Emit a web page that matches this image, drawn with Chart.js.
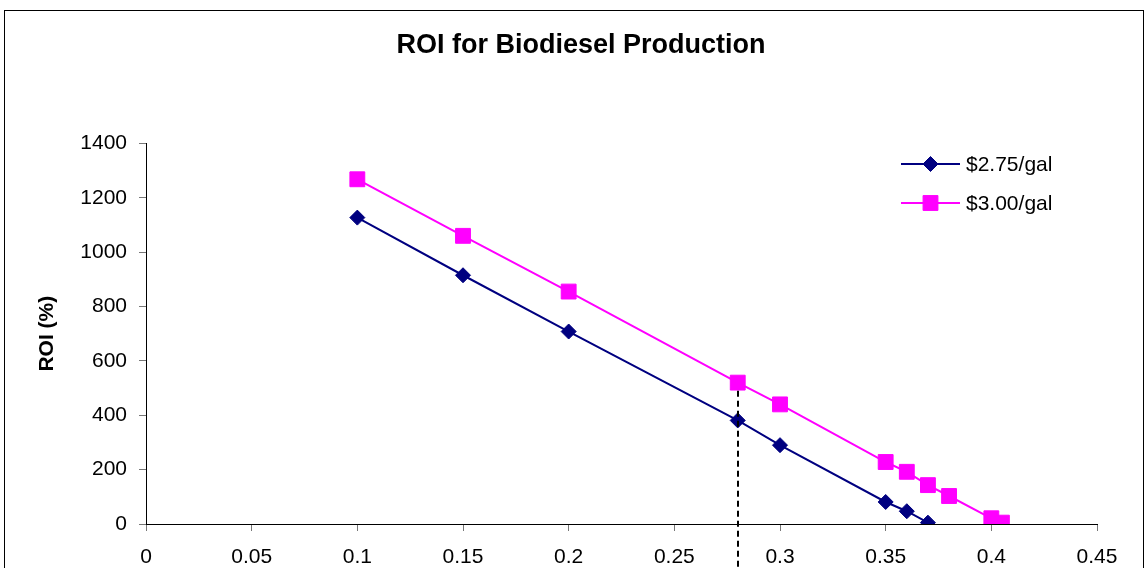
<!DOCTYPE html>
<html>
<head>
<meta charset="utf-8">
<script src="https://cdn.jsdelivr.net/npm/chart.js@4/dist/chart.umd.min.js"></script>
<style>
  html, body { margin: 0; padding: 0; background: #ffffff; }
  #wrap { width: 1146px; height: 568px; position: relative; }
</style>
</head>
<body>
<div id="wrap"><canvas id="c" width="1146" height="568"></canvas></div>
<script>
// ---- data ----
const seriesNames = ['$2.75/gal', '$3.00/gal'];
const xA = [0.1, 0.15, 0.2, 0.28, 0.3, 0.35, 0.36, 0.37];
const yA = [1127, 915, 708, 381, 290, 81, 47, 5];
const xB = [0.1, 0.15, 0.2, 0.28, 0.3, 0.35, 0.36, 0.37, 0.38, 0.40, 0.405];
const yB = [1268, 1060, 855, 520, 440, 228, 192, 143, 103, 21, 5];
const markerX = 0.28;      // dashed reference line
const markerTopY = 520;
const xTickLabels = ['0', '0.05', '0.1', '0.15', '0.2', '0.25', '0.3', '0.35', '0.4', '0.45'];
const yTickLabels = ['0', '200', '400', '600', '800', '1000', '1200', '1400'];

const toPts = (xs, ys) => xs.map((x, i) => ({ x: x, y: ys[i] }));
const FONT = "'Liberation Sans', Arial, sans-serif";

const decor = {
  id: 'decor',
  beforeDraw(chart) {
    const ctx = chart.ctx;
    ctx.save();
    ctx.fillStyle = '#ffffff';
    ctx.fillRect(0, 0, chart.width, chart.height);
    ctx.strokeStyle = '#000000';
    ctx.lineWidth = 1;
    ctx.strokeRect(4.5, 10.5, 1139, 700);
    ctx.restore();
  },
  afterDatasetsDraw(chart) {
    const ctx = chart.ctx;
    const xs = chart.scales.x, ys = chart.scales.y;
    ctx.save();
    ctx.strokeStyle = '#000000';
    ctx.lineWidth = 2;
    ctx.setLineDash([6, 4]);
    const px = Math.round(xs.getPixelForValue(markerX));
    ctx.beginPath();
    ctx.moveTo(px, ys.getPixelForValue(markerTopY) + 8);
    ctx.lineTo(px, chart.height);
    ctx.stroke();
    ctx.restore();
  },
  afterDraw(chart) {
    const ctx = chart.ctx;
    const rows = [164, 203];
    chart.data.datasets.forEach((ds, i) => {
      const y = rows[i];
      ctx.save();
      ctx.strokeStyle = ds.borderColor;
      ctx.lineWidth = 2;
      ctx.beginPath();
      ctx.moveTo(901, y);
      ctx.lineTo(960, y);
      ctx.stroke();
      ctx.fillStyle = ds.pointBackgroundColor;
      ctx.strokeStyle = ds.pointBorderColor;
      ctx.lineWidth = 1;
      Chart.helpers.drawPoint(ctx, {
        pointStyle: ds.pointStyle, rotation: 0, borderWidth: 1, radius: ds.pointRadius
      }, 930.5, y);
      ctx.fillStyle = '#000000';
      ctx.font = '21px ' + FONT;
      ctx.textBaseline = 'middle';
      ctx.textAlign = 'left';
      ctx.fillText(ds.label, 966, y + 1);
      ctx.restore();
    });
  }
};

new Chart(document.getElementById('c'), {
  type: 'line',
  data: {
    datasets: [
      {
        label: seriesNames[0],
        data: toPts(xA, yA),
        borderColor: '#000080',
        backgroundColor: '#000080',
        pointBackgroundColor: '#000080',
        pointBorderColor: '#000080',
        pointStyle: 'rectRot',
        pointRadius: 7.5,
        pointBorderWidth: 1,
        borderWidth: 2,
        tension: 0,
        fill: false
      },
      {
        label: seriesNames[1],
        data: toPts(xB, yB),
        borderColor: '#FF00FF',
        backgroundColor: '#FF00FF',
        pointBackgroundColor: '#FF00FF',
        pointBorderColor: '#FF00FF',
        pointStyle: 'rect',
        pointRadius: 10.5,
        pointBorderWidth: 1,
        borderWidth: 2,
        tension: 0,
        fill: false
      }
    ]
  },
  options: {
    responsive: false,
    animation: false,
    devicePixelRatio: 1,
    layout: { padding: { left: 16, right: 0, top: 0, bottom: 0 } },
    plugins: {
      legend: { display: false },
      tooltip: { enabled: false },
      title: {
        display: true,
        text: 'ROI for Biodiesel Production',
        color: '#000000',
        font: { family: FONT, size: 27, weight: 'bold' },
        padding: { top: 29, bottom: 82 }
      }
    },
    scales: {
      x: {
        type: 'linear',
        min: 0, max: 0.45,
        afterFit(s) { s.height = 44; },
        ticks: {
          stepSize: 0.05,
          color: '#000000',
          font: { family: FONT, size: 21 },
          padding: 14,
          maxRotation: 0,
          autoSkip: false,
          callback: (v, i) => xTickLabels[i]
        },
        grid: { drawOnChartArea: false, drawTicks: true, tickLength: 7, color: '#777777' },
        border: { color: '#000000', width: 1 }
      },
      y: {
        min: 0, max: 1400,
        afterFit(s) { s.width = 130; },
        ticks: {
          stepSize: 200,
          color: '#000000',
          font: { family: FONT, size: 21 },
          padding: 12,
          callback: (v, i) => yTickLabels[i]
        },
        grid: { drawOnChartArea: false, drawTicks: true, tickLength: 7, color: '#777777' },
        border: { color: '#000000', width: 1 },
        title: {
          display: true,
          text: 'ROI (%)',
          color: '#000000',
          font: { family: FONT, size: 21, weight: 'bold' },
          padding: { top: 19, bottom: 0 }
        }
      },
      spacer: {
        type: 'linear',
        position: 'right',
        display: true,
        afterFit(s) { s.width = 49; },
        ticks: { display: false },
        grid: { display: false, drawTicks: false },
        border: { display: false }
      }
    }
  },
  plugins: [decor]
});
</script>
</body>
</html>
